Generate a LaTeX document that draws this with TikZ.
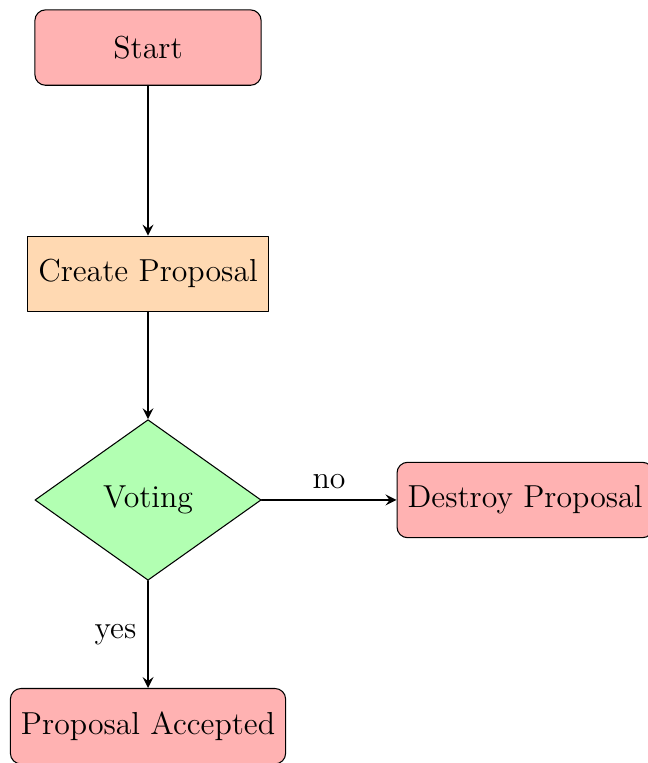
\documentclass[tikz,border=0pt,12pt]{standalone}
\usetikzlibrary{shapes.geometric,arrows}

\tikzset{
	startstop/.style={rectangle, rounded corners, minimum width=3cm, minimum height=1cm, text centered, draw=black, fill=red!30},
	process/.style={rectangle, minimum width=3cm, minimum height=1cm, text centered, draw=black, fill=orange!30},
	decision/.style={diamond, minimum width=3cm, minimum height=1cm, text centered, draw=black, fill=green!30},
	arrow/.style={thick,->,>=stealth}
}

\begin{document}
\begin{tikzpicture}[line cap=round,line join=round,x=1.0cm,y=1.0cm]
		\useasboundingbox (-1.963,-3.488) rectangle (6.618,6.631);
		\node (start) [startstop] at (0,6) {Start};
		\node (create) [process] at (0,3) {Create Proposal};
		\node (voting) [decision] at (0,0) {Voting};
		\node (destroy) [startstop] at (5,0) {Destroy Proposal};
		\node (accepted) [startstop] at (0,-3) {Proposal Accepted};
		\draw [arrow] (start) -- (create);
		\draw [arrow] (create) -- (voting);
		\draw [arrow] (voting) -- node[anchor=south] {no} (destroy);
		\draw [arrow] (voting) -- node[anchor=east] {yes} (accepted);
	\end{tikzpicture}
\end{document}
